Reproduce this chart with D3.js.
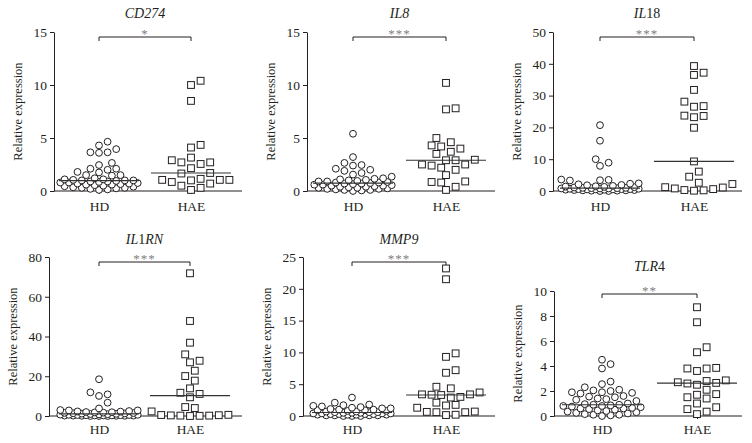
<!DOCTYPE html>
<html><head><meta charset="utf-8">
<script src="https://cdn.jsdelivr.net/npm/d3@7"></script>
<style>body{margin:0;background:#fff}svg{display:block}</style>
</head><body>
<svg id="chart" width="752" height="443"></svg>
<script>
// ---------- data ----------
const genes = ["CD274", "IL8", "IL18", "IL1RN", "MMP9", "TLR4"];
const groups = ["HD", "HAE"];
const significance = ["*", "***", "***", "***", "***", "**"];
const yMax = [15, 15, 50, 80, 25, 10];
const yTicks = [[0,5,10,15],[0,5,10,15],[0,10,20,30,40,50],[0,20,40,60,80],[0,5,10,15,20,25],[0,2,4,6,8,10]];
// title pieces: [text, italic]
const titleParts = [
  [["CD274", true]],
  [["IL8", true]],
  [["IL", true], ["18", false]],
  [["IL", true], ["1", false], ["RN", true]],
  [["MMP9", true]],
  [["TLR", true], ["4", false]]
];

const cd274HD = [4.65,4.3,3.95,3.65,3.65,3.6,2.65,2.45,2.1,2.1,2.0,1.8,1.75,1.5,1.5,1.45,
  1.2,1.1,1.1,1.05,1.0,1.0,1.0,0.95,0.9,0.9,0.85,0.8,0.8,0.75,0.7,0.7,0.65,0.6,0.6,0.55,0.5,0.45,0.4,0.35,0.3,0.3,0.25,0.2,0.15,0.1];
const cd274HAE = [10.4,10.0,8.5,4.35,4.1,3.15,2.9,2.7,2.7,2.55,2.15,1.7,1.65,1.15,1.05,1.05,1.05,1.0,0.85,0.7,0.5,0.3,0.1];

const il8HD = [5.4,3.2,2.65,2.45,2.4,2.1,2.0,1.9,1.7,1.55,1.35,1.2,1.15,1.1,1.05,1.0,0.95,0.9,0.9,0.85,0.8,0.8,0.75,
  0.7,0.7,0.65,0.6,0.6,0.55,0.5,0.5,0.45,0.4,0.4,0.35,0.3,0.3,0.25,0.2,0.2,0.15,0.1,0.1,0.05,0.0];
const il8HAE = [10.2,7.8,7.7,5.0,4.6,4.3,4.2,4.0,3.7,3.5,2.95,2.9,2.9,2.5,2.5,2.4,2.2,2.0,1.5,0.9,0.85,0.8,0.4,0.1];

const il18HD = [20.7,15.8,10.0,8.9,7.9,3.6,3.5,3.4,3.3,2.4,2.3,2.1,1.9,1.8,1.6,1.5,1.4,1.3,1.2,1.1,1.0,1.0,0.9,0.9,0.8,0.8,
  0.7,0.7,0.6,0.6,0.5,0.5,0.5,0.4,0.4,0.3,0.3,0.2,0.2,0.1,0.1,0.0,0.0,0.6,0.8];
const il18HAE = [39.3,37.2,36.5,31.8,28.1,26.7,26.5,23.7,23.6,23.2,19.9,9.3,6.1,4.5,2.6,2.2,1.2,1.1,0.8,0.6,0.3,0.2,0.1];

const il1rnHD = [18.5,11.9,10.9,10.1,6.7,3.8,3.0,2.8,2.8,2.5,2.3,2.0,1.9,1.8,1.6,1.5,1.4,1.3,1.2,1.1,1.0,0.9,0.8,0.7,0.6,0.6,
  0.5,0.5,0.4,0.4,0.3,0.3,0.3,0.2,0.2,0.2,0.1,0.1,0.1,0.0,0.0,0.0,1.7,2.2];
const il1rnHAE = [71.8,47.8,36.9,31.0,27.8,27.0,22.8,20.1,17.8,13.9,11.7,11.1,9.4,4.5,4.0,2.3,0.6,0.5,0.4,0.3,0.2,0.2,0.1,0.0];

const mmp9HD = [2.9,2.1,1.8,1.7,1.6,1.5,1.4,1.3,1.2,1.2,1.1,1.0,1.0,0.9,0.9,0.8,0.8,0.7,0.7,0.6,0.6,0.5,0.5,0.5,0.4,0.4,0.4,
  0.3,0.3,0.3,0.3,0.2,0.2,0.2,0.2,0.1,0.1,0.1,0.1,0.0,0.0,0.0,0.6,0.4];
const mmp9HAE = [23.2,21.5,9.85,9.3,7.2,6.8,4.6,4.35,3.7,3.4,3.4,3.35,3.3,3.0,2.9,2.1,1.75,1.65,1.3,0.7,0.65,0.6,0.6,0.2,0.15];

const tlr4HD = [4.5,4.15,3.8,2.75,2.55,2.3,2.1,2.05,2.0,1.9,1.9,1.85,1.8,1.6,1.55,1.5,1.4,1.35,1.3,1.2,1.0,0.95,0.9,0.9,
  0.85,0.8,0.8,0.75,0.7,0.65,0.6,0.6,0.55,0.5,0.45,0.4,0.35,0.3,0.25,0.2,0.15,0.1,0.1,0.05,0.0];
const tlr4HAE = [8.7,7.5,5.5,5.1,3.85,3.8,3.8,3.6,2.85,2.8,2.7,2.65,2.6,2.5,2.1,1.75,1.7,1.5,1.4,1.0,0.7,0.55,0.35,0.15];

const hdValues = [cd274HD, il8HD, il18HD, il1rnHD, mmp9HD, tlr4HD];
const haeValues = [cd274HAE, il8HAE, il18HAE, il1rnHAE, mmp9HAE, tlr4HAE];

// ---------- layout ----------
const layout = [
  {x0:54,  x1:242, hd:99,  hae:191, yTop:32,  yBot:191, titleY:18,  brY:37,  labPad:7},
  {x0:307, x1:495, hd:353, hae:446, yTop:32,  yBot:191, titleY:18,  brY:37,  labPad:7},
  {x0:553, x1:742, hd:600, hae:694, yTop:32,  yBot:191, titleY:18,  brY:37,  labPad:7},
  {x0:49,  x1:242, hd:99,  hae:190, yTop:257, yBot:416, titleY:244, brY:262, labPad:5},
  {x0:303, x1:495, hd:352, hae:446, yTop:257, yBot:416, titleY:244, brY:262, labPad:5},
  {x0:554, x1:742, hd:602, hae:697, yTop:291, yBot:416, titleY:271, brY:294, labPad:5}
];

const ink = "#231f20";
const font = "'Liberation Serif','Times New Roman',serif";
const svg = d3.select("#chart").style("font-family", font);

// grid beeswarm: x offsets on a half-spacing grid, overlap allowed when crowded
function swarm(values, y, cx, minDist, step, nSteps) {
  const items = values.map(v => ({v, y: y(v)})).sort((a, b) => a.v - b.v);
  const cands = [0];
  for (let k = 1; k <= nSteps; k++) cands.push(k * step, -k * step);
  const placed = [];
  items.forEach(it => {
    let chosen = null, bestScore = -1, bestOff = 0;
    for (const off of cands) {
      let mind = Infinity;
      for (const p of placed) {
        const dx = p.off - off, dy = p.y - it.y;
        const dd = Math.sqrt(dx * dx + dy * dy);
        if (dd < mind) mind = dd;
      }
      if (mind >= minDist) { chosen = off; break; }
      if (mind > bestScore + 0.01) { bestScore = mind; bestOff = off; }
    }
    it.off = chosen === null ? bestOff : chosen;
    placed.push(it);
  });
  items.forEach(it => it.x = cx + it.off);
  return items;
}

genes.forEach((gene, i) => {
  const L = layout[i];
  const g = svg.append("g");
  const y = d3.scaleLinear().domain([0, yMax[i]]).range([L.yBot, L.yTop]);
  const x = d3.scalePoint().domain(groups).range([L.hd, L.hae]);

  // y axis
  const ya = g.append("g").attr("transform", `translate(${L.x0},0)`)
    .call(d3.axisLeft(y).tickValues(yTicks[i]).tickSize(4).tickSizeOuter(0).tickPadding(3));
  ya.selectAll("path,line").attr("stroke", ink);
  ya.selectAll("text").attr("font-size", 13.5).attr("font-family", font).attr("fill", ink);

  // x axis line
  g.append("line").attr("x1", L.x0).attr("x2", L.x1).attr("y1", L.yBot).attr("y2", L.yBot)
    .attr("stroke", ink).attr("stroke-width", 1);
  const xa = g.append("g").attr("transform", `translate(0,${L.yBot})`)
    .call(d3.axisBottom(x).tickSize(3).tickSizeOuter(0).tickPadding(L.labPad));
  xa.select(".domain").remove();
  xa.selectAll("line").attr("stroke", ink);
  xa.selectAll("text").attr("font-size", 13.5).attr("font-family", font).attr("fill", ink);

  // y label
  g.append("text").attr("transform", `translate(${L.x0 - 36},${(L.yTop + L.yBot) / 2}) rotate(-90)`)
    .attr("dy", "0.35em").attr("text-anchor", "middle").attr("font-size", 12.5).attr("fill", ink)
    .text("Relative expression");

  // title
  const t = g.append("text").attr("x", (L.hd + L.hae) / 2).attr("y", L.titleY)
    .attr("text-anchor", "middle").attr("font-size", 14).attr("fill", ink);
  titleParts[i].forEach(([s, it]) => t.append("tspan").attr("font-style", it ? "italic" : "normal").text(s));

  // significance bracket
  const bx1 = x("HD"), bx2 = x("HAE");
  g.append("path").attr("d", `M${bx1},${L.brY + 4}V${L.brY}H${bx2}V${L.brY + 4}`)
    .attr("fill", "none").attr("stroke", ink).attr("stroke-width", 1);
  g.append("text").attr("x", (bx1 + bx2) / 2).attr("y", L.brY + 1).attr("text-anchor", "middle")
    .attr("font-size", 13).attr("letter-spacing", 1).attr("fill", "#808080").text(significance[i]);

  // HD circles
  const hd = swarm(hdValues[i], y, x("HD"), 7.2, 4.3, 9);
  g.selectAll(".hd").data(hd).join("circle")
    .attr("cx", d => d.x).attr("cy", d => d.y).attr("r", 3.4)
    .attr("fill", "#fff").attr("stroke", ink).attr("stroke-width", 1);
  // HAE squares
  const hae = swarm(haeValues[i], y, x("HAE"), 8.6, 4.8, 8);
  const s = 6.8;
  g.selectAll(".hae").data(hae).join("rect")
    .attr("x", d => d.x - s / 2).attr("y", d => d.y - s / 2).attr("width", s).attr("height", s)
    .attr("fill", "#fff").attr("stroke", ink).attr("stroke-width", 1);

  // medians
  const mHD = d3.median(hdValues[i]), mHAE = d3.median(haeValues[i]);
  [[x("HD"), mHD], [x("HAE"), mHAE]].forEach(([cx, m]) => {
    g.append("line").attr("x1", cx - 40).attr("x2", cx + 40).attr("y1", y(m)).attr("y2", y(m))
      .attr("stroke", "#333").attr("stroke-width", 1.2);
  });
});
</script>
</body></html>
